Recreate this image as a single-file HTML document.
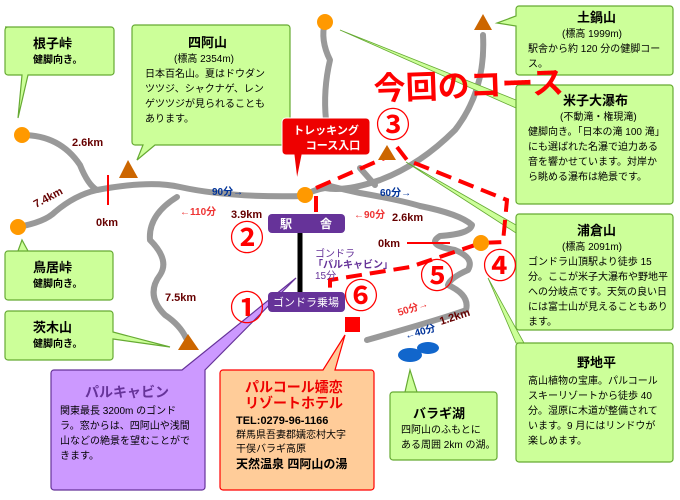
<!DOCTYPE html>
<html><head><meta charset="utf-8"><style>
body{margin:0;background:#fff}
svg{display:block;font-family:"Liberation Sans","Noto Sans CJK JP",sans-serif}
.g{fill:#ccff99;stroke:#66aa33;stroke-width:1.2}
.t{font-size:10px;fill:#000}
.h{font-size:13px;font-weight:bold;fill:#000}
.km{font-size:11px;font-weight:bold;fill:#660000}
.bl{font-size:10px;font-weight:bold;fill:#003399}
.rd{font-size:10px;font-weight:bold;fill:#ee3333}
.num{font-size:34px;fill:#ff0000;font-weight:bold}
.rd2{fill:none;stroke:#999;stroke-width:6;stroke-linecap:round;stroke-linejoin:round}
</style></head><body>
<svg width="680" height="500" viewBox="0 0 680 500">
<path class="rd2" d="M22,135 Q60,135 80,165 Q88,185 97,190 Q150,180 180,187 Q230,198 305,196"/>
<path class="rd2" d="M18,227 Q45,222 55,212 Q75,195 97,190"/>
<path class="rd2" d="M177,197 Q148,215 150,240 Q170,260 160,275 Q145,295 165,315 Q180,325 186,338"/>
<path class="rd2" d="M325,22 Q320,40 330,60 Q323,90 326,120"/>
<path class="rd2" d="M483,35 Q486,90 455,130 Q420,165 380,180 Q345,192 325,188 Q312,190 305,196"/>
<path class="rd2" d="M360,168 L375,185"/>
<path class="rd2" d="M330,186 Q345,190 360,193 Q400,200 420,206 Q460,214 472,225 Q470,234 440,236 Q425,245 455,250 Q475,258 468,270 Q450,278 448,285 Q470,295 466,310 Q445,318 367,340"/>
<line x1="108" y1="175" x2="108" y2="205" stroke="#f00" stroke-width="2"/>
<line x1="407" y1="243" x2="450" y2="243" stroke="#f00" stroke-width="2"/>
<polygon points="340,30 516,100 516,108" fill="#ccff99" stroke="#66aa33" stroke-width="0.8"/>
<polygon points="406,162 516,225 516,233" fill="#ccff99" stroke="#66aa33" stroke-width="0.8"/>
<polygon points="488,278 516,343 524,343" fill="#ccff99" stroke="#66aa33" stroke-width="0.8"/>
<g class="g">
<path d="M5,27 h106 a3,3 0 0 1 3,3 v42 a3,3 0 0 1 -3,3 H28 L18,118 L22,75 H8 a3,3 0 0 1 -3,-3 V30 a3,3 0 0 1 3,-3z"/>
<path d="M135,25 h152 a3,3 0 0 1 3,3 v114 a3,3 0 0 1 -3,3 H155 L137,160 L143,145 H135 a3,3 0 0 1 -3,-3 V28 a3,3 0 0 1 3,-3z"/>
<path d="M519,6 h151 a3,3 0 0 1 3,3 v63 a3,3 0 0 1 -3,3 H519 a3,3 0 0 1 -3,-3 V26 L497,23 L516,16 V9 a3,3 0 0 1 3,-3z"/>
<rect x="516" y="85" width="157" height="119" rx="3"/>
<rect x="516" y="214" width="157" height="116" rx="3"/>
<rect x="516" y="343" width="157" height="119" rx="3"/>
<path d="M393,392 h101 a3,3 0 0 1 3,3 v62 a3,3 0 0 1 -3,3 H393 a3,3 0 0 1 -3,-3 V395 a3,3 0 0 1 3,-3 H405 L410,370 L417,392z"/>
<path d="M8,251 h102 a3,3 0 0 1 3,3 v43 a3,3 0 0 1 -3,3 H8 a3,3 0 0 1 -3,-3 V254 a3,3 0 0 1 3,-3 H18 L22,240 L28,251z"/>
<path d="M8,311 h102 a3,3 0 0 1 3,3 v18 L170,347 L113,339 v18 a3,3 0 0 1 -3,3 H8 a3,3 0 0 1 -3,-3 V314 a3,3 0 0 1 3,-3z"/>
</g>
<path d="M54,370 h128 L296,278 L205,370 v117 a3,3 0 0 1 -3,3 H54 a3,3 0 0 1 -3,-3 V373 a3,3 0 0 1 3,-3z" fill="#cc99ff" stroke="#663399" stroke-width="1.2"/>
<path d="M223,370 h100 L345,335 L335,370 h36 a3,3 0 0 1 3,3 v114 a3,3 0 0 1 -3,3 H223 a3,3 0 0 1 -3,-3 V373 a3,3 0 0 1 3,-3z" fill="#ffcc99" stroke="#ff0000" stroke-width="1.2"/>
<path d="M286,118 h80 a4,4 0 0 1 4,4 v29 a4,4 0 0 1 -4,4 H302 L297,180 L294,155 h-8 a4,4 0 0 1 -4,-4 v-29 a4,4 0 0 1 4,-4z" fill="#ee0000" stroke="#fff" stroke-width="1"/>
<text x="326" y="134" text-anchor="middle" font-size="11" font-weight="bold" fill="#fff">トレッキング</text>
<text x="333" y="149" text-anchor="middle" font-size="11" font-weight="bold" fill="#fff">コース入口</text>
<line x1="300" y1="233" x2="300" y2="292" stroke="#000" stroke-width="5"/>
<rect x="268" y="214" width="77" height="19" rx="4" fill="#663399"/>
<text x="280" y="228" font-size="12" font-weight="bold" fill="#fff">駅</text>
<text x="320" y="228" font-size="12" font-weight="bold" fill="#fff">舎</text>
<rect x="268" y="292" width="77" height="20" rx="4" fill="#663399"/>
<text x="306" y="306" text-anchor="middle" font-size="11" fill="#fff">ゴンドラ乗場</text>
<path d="M316,212 V188 L387,157 M397,147 L407,160 L507,200 L503,242 L481,243 L410,267 L330,280 V292" fill="none" stroke="#ff0000" stroke-width="4" stroke-dasharray="16,8"/>
<rect x="345" y="317" width="15" height="15" fill="#ff0000"/>
<ellipse cx="410" cy="355" rx="12" ry="7" fill="#1166cc"/>
<ellipse cx="428" cy="348" rx="11" ry="6" fill="#1166cc"/>
<g fill="#ff9900"><circle cx="325" cy="22" r="8"/><circle cx="22" cy="135" r="8"/><circle cx="18" cy="227" r="8"/><circle cx="305" cy="195" r="8"/><circle cx="481" cy="243" r="8"/></g>
<g fill="#cc6600"><polygon points="128,160 119,178 138,178"/><polygon points="387,145 378,160 396,160"/><polygon points="483,14 474,30 492,30"/><polygon points="188,334 178,350 199,350"/></g>
<g class="num"><text x="230" y="320">①</text><text x="230" y="250">②</text><text x="376" y="137">③</text><text x="483" y="278">④</text><text x="420" y="288">⑤</text><text x="344" y="308">⑥</text></g>
<text x="374" y="100" font-size="32" font-weight="bold" fill="#ff0000" transform="rotate(-2 374 100)">今回のコース</text>
<text class="km" x="72" y="146">2.6km</text>
<text class="km" x="36" y="208" transform="rotate(-28 36 208)">7.4km</text>
<text class="km" x="96" y="226">0km</text>
<text class="bl" x="212" y="195">90分→</text>
<text class="rd" x="180" y="215">←110分</text>
<text class="km" x="231" y="218">3.9km</text>
<text class="bl" x="380" y="196">60分→</text>
<text class="rd" x="354" y="218">←90分</text>
<text class="km" x="392" y="221">2.6km</text>
<text class="km" x="378" y="247">0km</text>
<text x="315" y="257" font-size="10" fill="#663399">ゴンドラ</text>
<text x="313" y="268" font-size="10" font-weight="bold" fill="#663399">「パルキャビン」</text>
<text x="315" y="279" font-size="10" fill="#663399">15分</text>
<text class="km" x="165" y="301">7.5km</text>
<text class="rd" x="399" y="316" transform="rotate(-18 399 316)">50分→</text>
<text class="bl" x="406" y="339" transform="rotate(-15 406 339)">←40分</text>
<text class="km" x="441" y="325" transform="rotate(-18 441 325)">1.2km</text>
<text class="h" x="33" y="48">根子峠</text><text class="t" x="33" y="63" font-weight="bold">健脚向き。</text>
<text class="h" x="188" y="47">四阿山</text>
<text class="t" x="174" y="62">(標高 2354m)</text>
<text class="t" x="145" y="77">日本百名山。夏はドウダン</text>
<text class="t" x="145" y="92">ツツジ、シャクナゲ、レン</text>
<text class="t" x="145" y="107">ゲツツジが見られることも</text>
<text class="t" x="145" y="122">あります。</text>
<text class="h" x="577" y="22">土鍋山</text>
<text class="t" x="562" y="37">(標高 1999m)</text>
<text class="t" x="528" y="52">駅舎から約 120 分の健脚コー</text>
<text class="t" x="528" y="67">ス。</text>
<text class="h" x="563" y="105">米子大瀑布</text>
<text class="t" x="560" y="120">(不動滝・権現滝)</text>
<text class="t" x="528" y="135">健脚向き。「日本の滝 100 滝」</text>
<text class="t" x="528" y="150">にも選ばれた名瀑で迫力ある</text>
<text class="t" x="528" y="165">音を響かせています。対岸か</text>
<text class="t" x="528" y="180">ら眺める瀑布は絶景です。</text>
<text class="h" x="577" y="235">浦倉山</text>
<text class="t" x="562" y="250">(標高 2091m)</text>
<text class="t" x="528" y="265">ゴンドラ山頂駅より徒歩 15</text>
<text class="t" x="528" y="280">分。ここが米子大瀑布や野地平</text>
<text class="t" x="528" y="295">への分岐点です。天気の良い日</text>
<text class="t" x="528" y="310">には富士山が見えることもあり</text>
<text class="t" x="528" y="325">ます。</text>
<text class="h" x="577" y="367">野地平</text>
<text class="t" x="528" y="384">高山植物の宝庫。パルコール</text>
<text class="t" x="528" y="399">スキーリゾートから徒歩 40</text>
<text class="t" x="528" y="414">分。湿原に木道が整備されて</text>
<text class="t" x="528" y="429">います。9 月にはリンドウが</text>
<text class="t" x="528" y="444">楽しめます。</text>
<text class="h" x="413" y="418">バラギ湖</text>
<text class="t" x="401" y="433">四阿山のふもとに</text>
<text class="t" x="401" y="448">ある周囲 2km の湖。</text>
<text class="h" x="33" y="272">鳥居峠</text><text class="t" x="33" y="287" font-weight="bold">健脚向き。</text>
<text class="h" x="33" y="332">茨木山</text><text class="t" x="33" y="347" font-weight="bold">健脚向き。</text>
<text x="85" y="397" font-size="14" font-weight="bold" fill="#663399">パルキャビン</text>
<text class="t" x="60" y="414">関東最長 3200m のゴンド</text>
<text class="t" x="60" y="429">ラ。窓からは、四阿山や浅間</text>
<text class="t" x="60" y="444">山などの絶景を望むことがで</text>
<text class="t" x="60" y="459">きます。</text>
<text x="245" y="392" font-size="14" font-weight="bold" fill="#ee0000">パルコール嬬恋</text>
<text x="245" y="408" font-size="14" font-weight="bold" fill="#ee0000">リゾートホテル</text>
<text x="236" y="424" font-size="11" font-weight="bold" fill="#000">TEL:0279-96-1166</text>
<text class="t" x="236" y="438">群馬県吾妻郡嬬恋村大字</text>
<text class="t" x="236" y="452">干俣バラギ高原</text>
<text x="236" y="468" font-size="12" font-weight="bold" fill="#000">天然温泉 四阿山の湯</text>
</svg>
</body></html>
